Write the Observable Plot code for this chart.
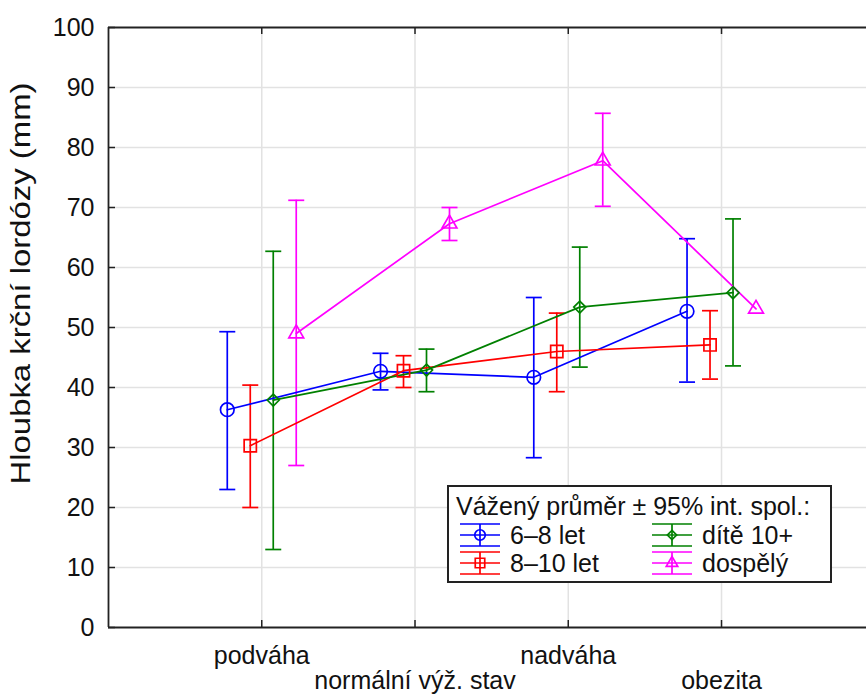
<!DOCTYPE html>
<html>
<head>
<meta charset="utf-8">
<script src="https://cdn.jsdelivr.net/npm/d3@7"></script>
<script src="https://cdn.jsdelivr.net/npm/@observablehq/plot@0.6"></script>
<style>
  html, body { margin: 0; padding: 0; background: white; overflow: hidden; }
  #wrap { position: relative; width: 866px; height: 695px; }
  #legend { position: absolute; left: 447px; top: 485px; }
</style>
</head>
<body>
<div id="wrap"></div>
<script>
// ---- data ----
const categories = ["podváha", "normální výž. stav", "nadváha", "obezita"];
const series = ["6–8 let", "8–10 let", "dítě 10+", "dospělý"];
const colors = ["#0000ff", "#ff0000", "#008000", "#ff00ff"];
const symbols = ["circle", "square", "diamond2", "triangle"];

const mean68 = [36.3, 42.7, 41.7, 52.7];
const lo68   = [23.0, 39.6, 28.3, 40.9];
const hi68   = [49.3, 45.7, 55.0, 64.8];

const mean810 = [30.3, 42.8, 46.0, 47.1];
const lo810   = [20.0, 40.0, 39.3, 41.4];
const hi810   = [40.4, 45.3, 52.4, 52.8];

const mean10 = [37.9, 42.9, 53.4, 55.8];
const lo10   = [13.0, 39.3, 43.4, 43.6];
const hi10   = [62.7, 46.4, 63.4, 68.1];

const meanAd = [49.0, 67.3, 77.8, 53.1];
const loAd   = [27.0, 64.5, 70.2, null];
const hiAd   = [71.2, 70.0, 85.7, null];

const yTicks = [0, 10, 20, 30, 40, 50, 60, 70, 80, 90, 100];
const legendTitle = "Vážený průměr ± 95% int. spol.:";
const yLabel = "Hloubka krční lordózy (mm)";

// ---- build table ----
const dodge = [-0.225, -0.075, 0.075, 0.225];
const means = [mean68, mean810, mean10, meanAd];
const los = [lo68, lo810, lo10, loAd];
const his = [hi68, hi810, hi10, hiAd];
const rows = [];
series.forEach((s, si) => {
  categories.forEach((c, ci) => {
    rows.push({series: s, si, cat: c, px: ci + 1 + dodge[si], mean: means[si][ci], lo: los[si][ci], hi: his[si][ci]});
  });
});
const ciRows = rows.filter(d => d.lo != null && d.hi != null);

const hline = {
  draw(ctx, size) {
    const r = Math.sqrt(size / Math.PI);
    ctx.moveTo(-r, 0);
    ctx.lineTo(r, 0);
  }
};
const markerR = [6.8, 6.9, 5.4, 5.5];
const sw = 1.7;

const chart = Plot.plot({
  width: 866,
  height: 695,
  marginLeft: 108,
  marginRight: 0,
  marginTop: 27,
  marginBottom: 68,
  x: {domain: [0, 4.946], axis: null},
  y: {domain: [0, 100], axis: null},
  color: {domain: series, range: colors},
  style: {fontFamily: "'Liberation Sans', Arial, sans-serif", fontSize: "25px", background: "white", color: "#111"},
  marks: [
    Plot.ruleY(yTicks.slice(1, -1), {stroke: "#e2e2e2", strokeWidth: 1.5}),
    Plot.ruleX([1, 2, 3, 4], {stroke: "#e2e2e2", strokeWidth: 1.5}),
    Plot.ruleY([0, 100], {stroke: "#222", strokeWidth: 1.8}),
    Plot.ruleX([0], {stroke: "#222", strokeWidth: 1.8}),
    Plot.tickY(yTicks, {y: d => d, insetRight: 751, stroke: "#222", strokeWidth: 1.5}),
    Plot.tickX([1, 2, 3, 4], {x: d => d, insetTop: 593, stroke: "#222", strokeWidth: 1.5}),
    Plot.tickX([1, 2, 3, 4], {x: d => d, insetBottom: 593, stroke: "#222", strokeWidth: 1.5}),
    Plot.axisY(yTicks, {tickSize: 0, tickPadding: 14, fontSize: 25, label: yLabel, labelAnchor: "center", labelOffset: 98, labelArrow: false}),
    Plot.axisX([1, 3], {tickSize: 0, tickPadding: 19, fontSize: 25, tickFormat: d => categories[d - 1], label: null}),
    Plot.axisX([2, 4], {tickSize: 0, tickPadding: 44, fontSize: 25, tickFormat: d => categories[d - 1], label: null}),
    Plot.ruleX(ciRows, {x: "px", y1: "lo", y2: "hi", stroke: "series", strokeWidth: sw}),
    Plot.dot(ciRows, {x: "px", y: "hi", symbol: hline, r: 8, stroke: "series", strokeWidth: sw}),
    Plot.dot(ciRows, {x: "px", y: "lo", symbol: hline, r: 8, stroke: "series", strokeWidth: sw}),
    Plot.line(rows, {x: "px", y: "mean", z: "series", stroke: "series", strokeWidth: sw}),
    ...series.map((s, si) => Plot.dot(rows.filter(d => d.si === si), {x: "px", y: "mean", symbol: symbols[si], r: markerR[si], stroke: "series", fill: "none", strokeWidth: sw}))
  ]
});
document.getElementById("wrap").appendChild(chart);

// stretch the y-axis label along its direction and lift it, as in the reference
const yl = chart.querySelector('g[aria-label="y-axis label"] text');
if (yl) {
  yl.style.fontSize = "27px";
  yl.setAttribute("textLength", "402");
  yl.setAttribute("lengthAdjust", "spacingAndGlyphs");
  yl.setAttribute("x", "44");
}

// ---- legend ----
const lg = d3.select("#wrap").append("svg").attr("id", "legend")
  .attr("width", 386).attr("height", 99)
  .style("font-family", "'Liberation Sans', Arial, sans-serif")
  .style("font-size", "25px");
lg.append("rect").attr("x", 1).attr("y", 1).attr("width", 383).attr("height", 96)
  .attr("fill", "white").attr("stroke", "#222").attr("stroke-width", 2);
lg.append("text").attr("x", 9).attr("y", 30).attr("fill", "#111").text(legendTitle);
const pos = [[13, 50], [13, 78], [205, 50], [205, 78]];
series.forEach((s, si) => {
  const [x0, cy] = pos[si];
  const g = lg.append("g").attr("stroke", colors[si]).attr("stroke-width", sw).attr("fill", "none");
  const w = 40, h = 11;
  g.append("line").attr("x1", x0).attr("x2", x0 + w).attr("y1", cy - h).attr("y2", cy - h);
  g.append("line").attr("x1", x0).attr("x2", x0 + w).attr("y1", cy).attr("y2", cy);
  g.append("line").attr("x1", x0).attr("x2", x0 + w).attr("y1", cy + h).attr("y2", cy + h);
  g.append("line").attr("x1", x0 + w / 2).attr("x2", x0 + w / 2).attr("y1", cy - h).attr("y2", cy + h);
  const sym = [d3.symbolCircle, d3.symbolSquare, d3.symbolDiamond2, d3.symbolTriangle][si];
  const size = Math.PI * markerR[si] * markerR[si] * 0.6;
  g.append("path").attr("d", d3.symbol(sym, size)()).attr("transform", `translate(${x0 + w / 2},${cy})`);
  lg.append("text").attr("x", x0 + w + 10).attr("y", cy + 9).attr("fill", "#111").text(s);
});
</script>
</body>
</html>
